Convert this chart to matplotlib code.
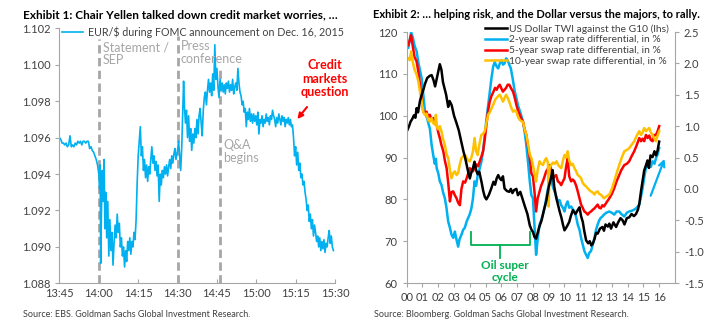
import numpy as np
import matplotlib.pyplot as plt

plt.rcParams['font.family'] = ['Lato', 'DejaVu Sans']

# ---- Exhibit 1 data: EUR/$ (minutes after 13:45) ----
minutes = [0, 0.5, 1, 1.5, 2, 2.5, 3, 3.5, 4, 4.5, 5, 5.5, 6, 6.5, 7, 7.5, 8, 8.5, 9, 9.5,
           10, 10.5, 11, 11.5, 12, 12.5, 13, 13.5, 14, 14.5,
           15, 15.3, 15.5, 15.7, 16, 16.3, 16.6, 17, 17.3, 17.6, 18, 18.4, 18.8, 19.2, 19.6,
           20, 20.4, 20.8, 21.2, 21.6, 22, 22.4, 22.8, 23.2, 23.6, 24, 24.4, 24.8, 25.2, 25.6,
           26, 26.4, 26.8, 27.2, 27.6, 28, 28.4, 28.8, 29.2, 29.6, 30, 30.4, 30.8, 31.2, 31.6,
           32, 32.4, 32.8, 33.2, 33.6, 34, 34.4, 34.8, 35.2, 35.6, 36, 36.4, 36.8, 37.2, 37.6,
           38, 38.4, 38.8, 39.2, 39.6, 40, 40.4, 40.8, 41.2, 41.6, 42, 42.4, 42.8, 43.2, 43.6,
           44, 44.4, 45, 45.4, 45.8, 46.2, 46.6, 47, 47.3, 47.6, 48, 48.4, 48.8, 49.2, 49.6,
           50, 50.4, 50.8, 51.2, 51.6, 52, 52.4, 52.8, 53.2, 53.6, 54, 54.4, 54.8, 55.2, 55.6,
           56, 56.4, 56.8, 57.2, 57.6, 58, 58.4, 58.8, 59.2, 59.6, 60, 60.4, 60.8, 61.2, 61.6,
           62, 62.4, 62.8, 63.2, 63.6, 64, 64.4, 64.8, 65.2, 65.6, 66, 66.4, 66.8, 67.2, 67.6,
           68, 68.4, 68.8, 69.2, 69.6, 70, 70.4, 70.8, 71.2, 71.6, 72, 72.4, 72.8, 73.2, 73.6,
           74, 74.4, 74.8, 75.2, 75.6, 76, 76.4, 76.8, 77.2, 77.6, 78, 78.4, 78.8, 79.2, 79.6,
           80, 80.4, 80.8, 81.2, 81.6, 82, 82.4, 82.8, 83.2, 83.6, 84, 84.4, 84.8, 85.2, 85.6,
           86, 86.4, 86.8, 87.2, 87.6, 88, 88.4, 88.8, 89.2, 89.6, 90, 90.4, 90.8, 91.2, 91.6,
           92, 92.4, 92.8, 93.2, 93.6, 94, 94.4, 94.8, 95.2, 95.6, 96, 96.4, 96.8, 97.2, 97.6,
           98, 98.4, 98.8, 99.2, 99.6, 100, 100.4, 100.8, 101.2, 101.6, 102, 102.4, 102.8,
           103.2, 103.6, 104, 104.4]
eurusd = [1.0960, 1.0959, 1.0957, 1.0957, 1.0956, 1.0957, 1.0955, 1.0956, 1.0961, 1.0955,
          1.0956, 1.0955, 1.0957, 1.0956, 1.0958, 1.0957, 1.0958, 1.0956, 1.0958, 1.0958,
          1.0957, 1.0958, 1.0958, 1.0954, 1.0955, 1.0953, 1.0952, 1.0950, 1.0948, 1.0945,
          1.0940, 1.0932, 1.0945, 1.0891, 1.0920, 1.0942, 1.0925, 1.0948, 1.0910, 1.0930,
          1.0905, 1.0925, 1.0895, 1.0915, 1.0898, 1.0908, 1.0890, 1.0902, 1.0912, 1.0905,
          1.0918, 1.0908, 1.0913, 1.0900, 1.0905, 1.0895, 1.0900, 1.0889, 1.0898, 1.0892,
          1.0903, 1.0898, 1.0905, 1.0896, 1.0903, 1.0900, 1.0908, 1.0904, 1.0915, 1.0935,
          1.0950, 1.0958, 1.0966, 1.0950, 1.0955, 1.0942, 1.0948, 1.0938, 1.0945, 1.0936,
          1.0944, 1.0940, 1.0948, 1.0955, 1.0946, 1.0950, 1.0942, 1.0947, 1.0939, 1.0945,
          1.0925, 1.0940, 1.0934, 1.0942, 1.0938, 1.0944, 1.0940, 1.0945, 1.0939, 1.0944,
          1.0948, 1.0943, 1.0950, 1.0946, 1.0951, 1.0954, 1.0948,
          1.0953, 1.0958, 1.0950, 1.0942, 1.0955, 1.0975, 1.0991, 1.0978, 1.0968, 1.0975,
          1.0960, 1.0972, 1.0958, 1.0965, 1.0953, 1.0962, 1.0957, 1.0965, 1.0960, 1.0970,
          1.0962, 1.0972, 1.0976, 1.0968, 1.0961, 1.0975, 1.0982, 1.0985, 1.0978, 1.0986,
          1.0992, 1.0985, 1.0990, 1.0983, 1.0995, 1.0986, 1.1011, 1.0992, 1.0998,
          1.0988, 1.0982, 1.0992, 1.0986, 1.0990, 1.0985, 1.0989, 1.0984, 1.0990, 1.0987,
          1.0991, 1.0985, 1.0989, 1.0986, 1.0992, 1.0984, 1.0988, 1.0990, 1.0986, 1.0998,
          1.0990, 1.0985, 1.0983, 1.0978, 1.0980, 1.0974, 1.0976, 1.0966, 1.0974, 1.0970,
          1.0976, 1.0969, 1.0973, 1.0968, 1.0973, 1.0969, 1.0972, 1.0967, 1.0974, 1.0962,
          1.0970, 1.0968, 1.0972, 1.0966, 1.0970, 1.0968, 1.0973, 1.0969, 1.0971, 1.0967,
          1.0972, 1.0970, 1.0975, 1.0972, 1.0970, 1.0966, 1.0971, 1.0968, 1.0973, 1.0970,
          1.0967, 1.0972, 1.0969, 1.0971, 1.0966, 1.0970, 1.0968, 1.0971, 1.0967,
          1.0970, 1.0966, 1.0967, 1.0960, 1.0950, 1.0955, 1.0945, 1.0952, 1.0942, 1.0946,
          1.0938, 1.0940, 1.0934, 1.0936, 1.0930, 1.0926, 1.0920, 1.0923, 1.0914, 1.0918,
          1.0910, 1.0915, 1.0906, 1.0912, 1.0908, 1.0903, 1.0906, 1.0900, 1.0905, 1.0898,
          1.0903, 1.0899, 1.0904, 1.0897, 1.0902, 1.0900, 1.0905, 1.0909, 1.0902, 1.0906,
          1.0900, 1.0898]
time_labels = ['13:45', '14:00', '14:15', '14:30', '14:45', '15:00', '15:15', '15:30']
event_minutes = [15, 45, 61.3]
event_tops = [1.1014, 1.1016, 1.0998]
event_labels = ['Statement /\nSEP', 'Press\nconference', 'Q&A\nbegins']

# ---- Exhibit 2 data ----
twi_years = [2000.0, 2000.15, 2000.25, 2000.35, 2000.46, 2000.55, 2000.63, 2000.72, 2000.84, 2000.95,
             2001.05, 2001.15, 2001.3, 2001.45, 2001.58, 2001.7, 2001.8, 2001.9, 2002.0, 2002.1,
             2002.2, 2002.3, 2002.4, 2002.5, 2002.63, 2002.72, 2002.85, 2003.0, 2003.16, 2003.3,
             2003.45, 2003.6, 2003.7, 2003.8, 2003.9, 2004.0, 2004.1, 2004.2, 2004.3, 2004.4,
             2004.5, 2004.6, 2004.75, 2004.85, 2004.95, 2005.05, 2005.2, 2005.35, 2005.5, 2005.6,
             2005.7, 2005.8, 2005.9, 2006.0, 2006.1, 2006.2, 2006.35, 2006.5, 2006.6, 2006.7,
             2006.8, 2006.95, 2007.05, 2007.2, 2007.35, 2007.5, 2007.65, 2007.8, 2007.9, 2008.0,
             2008.1, 2008.2, 2008.3, 2008.4, 2008.55, 2008.7, 2008.85, 2009.0, 2009.16, 2009.25,
             2009.35, 2009.47, 2009.6, 2009.7, 2009.8, 2009.9, 2010.0, 2010.15, 2010.3, 2010.4,
             2010.53, 2010.7, 2010.85, 2010.95, 2011.05, 2011.16, 2011.25, 2011.37, 2011.5, 2011.6,
             2011.7, 2011.79, 2011.9, 2012.0, 2012.1, 2012.25, 2012.4, 2012.5, 2012.6, 2012.75,
             2012.84, 2012.95, 2013.1, 2013.27, 2013.4, 2013.55, 2013.68, 2013.8, 2013.95, 2014.1,
             2014.25, 2014.4, 2014.53, 2014.65, 2014.74, 2014.85, 2014.95, 2015.05, 2015.15, 2015.26,
             2015.35, 2015.45, 2015.58, 2015.7, 2015.8, 2015.9, 2016.0]
twi_values = [96.2, 97.5, 98.6, 99.2, 100.1, 99.5, 101.8, 100.8, 103.5, 105.0,
              106.1, 107.5, 109.0, 109.5, 109.7, 108.5, 107.0, 108.8, 110.5, 112.3,
              111.0, 108.0, 106.5, 105.0, 102.1, 103.5, 102.5, 100.0, 98.2, 96.5,
              94.0, 91.4, 90.0, 88.2, 86.5, 85.0, 86.5, 87.5, 89.0, 87.0,
              86.0, 86.6, 84.0, 82.0, 80.6, 80.0, 81.0, 82.5, 84.2, 83.5,
              85.0, 85.8, 85.0, 84.6, 85.5, 82.6, 82.0, 81.8, 82.5, 81.5,
              82.2, 82.5, 81.0, 81.8, 80.0, 78.2, 76.5, 73.8, 72.8, 72.2,
              71.0, 70.6, 72.0, 73.4, 75.0, 77.5, 79.7, 83.0, 85.3, 87.0,
              83.0, 80.5, 78.5, 77.0, 75.7, 74.0, 72.6, 73.5, 74.6, 76.0,
              77.4, 76.5, 77.5, 78.1, 76.0, 74.6, 72.5, 70.2, 69.5, 70.0,
              69.0, 69.4, 70.5, 72.0, 71.8, 73.0, 73.4, 72.5, 74.0, 73.5,
              74.2, 73.0, 74.5, 73.4, 74.5, 75.5, 75.0, 74.0, 75.5, 75.7,
              76.5, 76.0, 76.5, 77.5, 78.9, 82.0, 84.5, 86.9, 88.0, 89.3,
              87.5, 90.5, 90.1, 91.5, 90.5, 91.7, 93.8]

swap2_years = [2000.1, 2000.2, 2000.28, 2000.4, 2000.5, 2000.63, 2000.75, 2000.85, 2000.95, 2001.05,
               2001.16, 2001.3, 2001.4, 2001.47, 2001.58, 2001.68, 2001.78, 2001.85, 2001.9, 2002.0,
               2002.1, 2002.21, 2002.3, 2002.42, 2002.52, 2002.63, 2002.74, 2002.84, 2002.95, 2003.05,
               2003.15, 2003.26, 2003.35, 2003.47, 2003.58, 2003.68, 2003.8, 2003.9, 2004.0, 2004.1,
               2004.2, 2004.3, 2004.4, 2004.5, 2004.6, 2004.73, 2004.85, 2004.95, 2005.05, 2005.16,
               2005.27, 2005.37, 2005.48, 2005.58, 2005.7, 2005.8, 2005.9, 2006.0, 2006.1, 2006.2,
               2006.3, 2006.4, 2006.5, 2006.6, 2006.72, 2006.85, 2006.95, 2007.05, 2007.2, 2007.37,
               2007.48, 2007.58, 2007.7, 2007.8, 2007.9, 2008.0, 2008.1, 2008.2, 2008.3, 2008.42,
               2008.52, 2008.63, 2008.74, 2008.84, 2008.95, 2009.05, 2009.12, 2009.2, 2009.28, 2009.37,
               2009.48, 2009.58, 2009.69, 2009.79, 2009.9, 2010.0, 2010.1, 2010.2, 2010.3, 2010.42,
               2010.52, 2010.63, 2010.74, 2010.84, 2010.95, 2011.05, 2011.15, 2011.26, 2011.37, 2011.47,
               2011.57, 2011.68, 2011.8, 2011.9, 2012.0, 2012.1, 2012.2, 2012.3, 2012.4, 2012.5,
               2012.65, 2012.84, 2013.0, 2013.15, 2013.3, 2013.47, 2013.6, 2013.79, 2013.95, 2014.1,
               2014.25, 2014.42, 2014.58, 2014.74, 2014.85, 2014.95, 2015.05, 2015.16, 2015.27, 2015.37,
               2015.47, 2015.58, 2015.7, 2015.8, 2015.9, 2016.0]
swap2_values = [2.25, 2.38, 2.50, 2.40, 2.28, 2.19, 2.00, 1.88, 1.76, 1.50,
                1.23, 1.12, 1.02, 0.96, 0.70, 0.54, 0.40, 0.48, 0.33, 0.25,
                0.12, 0.06, -0.05, -0.15, -0.30, -0.52, -0.62, -0.73, -0.78, -0.68,
                -0.80, -0.92, -0.80, -0.73, -0.65, -0.62, -0.52, -0.46, -0.40, -0.31,
                -0.15, 0.12, 0.05, 0.22, 0.30, 0.43, 0.62, 0.86, 1.10, 1.33,
                1.55, 1.76, 1.95, 2.02, 1.95, 1.92, 2.00, 2.05, 1.98, 2.00,
                2.08, 2.05, 1.98, 1.92, 1.75, 1.55, 1.45, 1.33, 1.22, 1.07,
                0.90, 0.70, 0.40, 0.12, -0.10, -0.15, -0.60, -1.05, -0.80, -0.57,
                -0.50, -0.41, -0.30, -0.15, 0.00, 0.17, 0.38, 0.10, 0.02, -0.04,
                -0.12, -0.20, -0.18, -0.26, -0.30, -0.36, -0.25, -0.20, -0.30, -0.28,
                -0.32, -0.36, -0.45, -0.57, -0.65, -0.78, -0.88, -0.99, -1.05, -1.10,
                -1.02, -0.99, -0.88, -0.78, -0.65, -0.57, -0.50, -0.46, -0.44, -0.41,
                -0.38, -0.36, -0.38, -0.41, -0.36, -0.36, -0.40, -0.44, -0.38, -0.36,
                -0.35, -0.33, -0.30, -0.25, -0.12, 0.01, 0.18, 0.33, 0.38, 0.38,
                0.35, 0.44, 0.40, 0.49, 0.55, 0.65]

swap5_years = [2000.1, 2000.2, 2000.28, 2000.4, 2000.5, 2000.63, 2000.75, 2000.84, 2000.95, 2001.05,
               2001.15, 2001.26, 2001.36, 2001.47, 2001.58, 2001.68, 2001.8, 2001.9, 2002.0, 2002.1,
               2002.2, 2002.32, 2002.42, 2002.53, 2002.63, 2002.74, 2002.84, 2002.95, 2003.05, 2003.16,
               2003.26, 2003.37, 2003.47, 2003.58, 2003.7, 2003.8, 2003.9, 2004.0, 2004.1, 2004.2,
               2004.32, 2004.42, 2004.52, 2004.63, 2004.74, 2004.84, 2004.95, 2005.05, 2005.16, 2005.26,
               2005.37, 2005.5, 2005.6, 2005.7, 2005.8, 2005.9, 2006.0, 2006.1, 2006.2, 2006.3,
               2006.4, 2006.5, 2006.62, 2006.74, 2006.85, 2006.95, 2007.05, 2007.16, 2007.26, 2007.37,
               2007.47, 2007.58, 2007.7, 2007.8, 2007.9, 2008.0, 2008.1, 2008.2, 2008.3, 2008.42,
               2008.52, 2008.63, 2008.74, 2008.84, 2008.95, 2009.05, 2009.15, 2009.26, 2009.37, 2009.47,
               2009.58, 2009.69, 2009.79, 2009.9, 2010.0, 2010.1, 2010.2, 2010.3, 2010.42, 2010.52,
               2010.63, 2010.74, 2010.84, 2010.95, 2011.05, 2011.15, 2011.26, 2011.37, 2011.47, 2011.57,
               2011.68, 2011.8, 2011.9, 2012.0, 2012.1, 2012.2, 2012.3, 2012.4, 2012.5, 2012.65,
               2012.84, 2013.0, 2013.15, 2013.3, 2013.47, 2013.6, 2013.79, 2013.95, 2014.1, 2014.25,
               2014.42, 2014.58, 2014.74, 2014.85, 2014.95, 2015.05, 2015.16, 2015.27, 2015.37, 2015.47,
               2015.58, 2015.7, 2015.8, 2015.9, 2016.0]
swap5_values = [2.29, 2.38, 2.45, 2.25, 2.10, 2.03, 1.85, 1.66, 1.45, 1.23,
                1.20, 1.23, 1.15, 1.18, 1.10, 1.13, 1.05, 1.02, 0.90, 0.81,
                0.70, 0.60, 0.45, 0.33, 0.10, -0.20, -0.05, -0.04, -0.10, -0.15,
                -0.22, -0.26, 0.00, 0.12, 0.10, 0.17, 0.25, 0.33, 0.30, 0.28,
                0.35, 0.39, 0.36, 0.44, 0.52, 0.60, 0.80, 1.02, 1.25, 1.39,
                1.48, 1.55, 1.61, 1.58, 1.63, 1.66, 1.60, 1.55, 1.58, 1.61,
                1.66, 1.66, 1.60, 1.55, 1.45, 1.34, 1.25, 1.18, 1.12, 1.07,
                0.95, 0.86, 0.65, 0.49, 0.25, 0.20, -0.05, -0.36, -0.15, -0.04,
                0.05, 0.12, 0.20, 0.28, 0.32, 0.38, 0.30, 0.17, 0.20, 0.22,
                0.12, 0.10, 0.06, 0.12, 0.17, 0.35, 0.49, 0.20, 0.12, 0.15,
                0.12, 0.05, -0.04, -0.15, -0.25, -0.30, -0.36, -0.38, -0.41, -0.38,
                -0.36, -0.33, -0.31, -0.28, -0.25, -0.30, -0.31, -0.26, -0.28, -0.22,
                -0.15, -0.08, 0.01, 0.12, 0.22, 0.30, 0.38, 0.40, 0.44, 0.52,
                0.60, 0.70, 0.81, 0.76, 0.80, 0.76, 0.86, 0.81, 0.85, 0.78,
                0.76, 0.86, 0.86, 0.92, 1.00]

swap10_years = [2000.1, 2000.2, 2000.28, 2000.4, 2000.5, 2000.63, 2000.75, 2000.84, 2000.95, 2001.05,
                2001.15, 2001.26, 2001.36, 2001.47, 2001.58, 2001.68, 2001.8, 2001.85, 2001.92, 2002.0,
                2002.1, 2002.2, 2002.3, 2002.42, 2002.53, 2002.63, 2002.74, 2002.84, 2002.95, 2003.05,
                2003.16, 2003.26, 2003.37, 2003.47, 2003.58, 2003.7, 2003.8, 2003.9, 2004.0, 2004.1,
                2004.2, 2004.3, 2004.4, 2004.5, 2004.6, 2004.73, 2004.84, 2004.95, 2005.05, 2005.16,
                2005.26, 2005.37, 2005.5, 2005.6, 2005.7, 2005.8, 2005.9, 2006.0, 2006.1, 2006.2,
                2006.3, 2006.4, 2006.5, 2006.62, 2006.74, 2006.85, 2006.95, 2007.05, 2007.16, 2007.26,
                2007.37, 2007.47, 2007.58, 2007.7, 2007.8, 2007.9, 2008.0, 2008.1, 2008.2, 2008.3,
                2008.42, 2008.52, 2008.63, 2008.74, 2008.84, 2008.95, 2009.0, 2009.05, 2009.15, 2009.26,
                2009.37, 2009.5, 2009.6, 2009.7, 2009.8, 2009.9, 2010.0, 2010.1, 2010.2, 2010.3,
                2010.42, 2010.52, 2010.63, 2010.74, 2010.84, 2010.95, 2011.05, 2011.15, 2011.26, 2011.37,
                2011.47, 2011.57, 2011.68, 2011.8, 2011.9, 2012.0, 2012.1, 2012.2, 2012.3, 2012.4,
                2012.5, 2012.65, 2012.84, 2013.0, 2013.15, 2013.3, 2013.47, 2013.6, 2013.79, 2013.95,
                2014.1, 2014.25, 2014.42, 2014.58, 2014.74, 2014.85, 2014.95, 2015.05, 2015.16, 2015.27,
                2015.37, 2015.47, 2015.58, 2015.7, 2015.8, 2015.9, 2016.0]
swap10_values = [2.08, 2.05, 2.19, 2.00, 1.90, 1.82, 1.70, 1.55, 1.40, 1.23,
                 1.18, 1.20, 1.10, 1.07, 1.13, 1.05, 1.02, 1.18, 0.98, 0.95,
                 1.00, 0.92, 0.80, 0.70, 0.55, 0.49, 0.30, 0.17, 0.25, 0.28,
                 0.22, 0.25, 0.40, 0.49, 0.52, 0.54, 0.49, 0.45, 0.44, 0.50,
                 0.60, 0.81, 0.60, 0.54, 0.70, 0.86, 0.88, 0.92, 1.05, 1.18,
                 1.22, 1.28, 1.35, 1.42, 1.45, 1.48, 1.50, 1.45, 1.39, 1.45,
                 1.50, 1.45, 1.39, 1.30, 1.23, 1.25, 1.23, 1.15, 1.10, 1.08,
                 1.07, 0.95, 0.86, 0.70, 0.55, 0.49, 0.38, 0.25, 0.12, 0.30,
                 0.44, 0.40, 0.38, 0.45, 0.49, 0.42, -0.28, 0.33, 0.38, 0.42,
                 0.40, 0.44, 0.38, 0.35, 0.33, 0.45, 0.54, 0.50, 0.60, 0.45,
                 0.38, 0.40, 0.33, 0.28, 0.22, 0.20, 0.17, 0.10, 0.06, 0.04,
                 0.01, -0.02, -0.04, -0.06, -0.09, -0.05, -0.04, -0.08, -0.09, -0.12,
                 -0.15, -0.12, -0.09, 0.00, 0.12, 0.25, 0.38, 0.48, 0.60, 0.62,
                 0.65, 0.70, 0.76, 0.85, 0.92, 0.86, 0.90, 0.97, 0.92, 0.95,
                 0.97, 0.90, 0.86, 0.80, 0.76, 0.85, 0.92]

year_labels = ['%02d' % y for y in range(0, 17)]

GRAY = '#A6A6A6'
TXT = '#404040'
BLUE = '#00B0F0'

fig = plt.figure(figsize=(7.15, 3.22), dpi=100)

# ---------------- Exhibit 1 ----------------
ax = fig.add_axes([0.0832, 0.120, 0.3853, 0.792])
l_eur, = ax.plot(minutes, eurusd, color=BLUE, lw=1.2,
                 label='EUR/$ during FOMC announcement on Dec. 16, 2015')
for m, top in zip(event_minutes, event_tops):
    ax.plot([m, m], [1.088, top], color=GRAY, lw=2, dashes=(3, 1.6), zorder=1)
ax.text(16.5, 1.1013, event_labels[0], color=GRAY, fontsize=9, va='top', linespacing=1.1)
ax.text(46.2, 1.10135, event_labels[1], color=GRAY, fontsize=9, va='top', linespacing=1.1)
ax.text(62.5, 1.0959, event_labels[2], color=GRAY, fontsize=9, va='top', linespacing=1.1)
ax.text(101, 1.1003, 'Credit\nmarkets\nquestion', color='#FF0000', fontsize=9, fontweight='bold',
        ha='center', va='top', linespacing=1.15)
ax.annotate('', xy=(90, 1.0969), xytext=(95, 1.0978),
            arrowprops=dict(arrowstyle='-|>', color='#FF0000', lw=1.5, mutation_scale=8))
ax.set_xlim(0, 105)
ax.set_ylim(1.088, 1.102)
ax.set_xticks(np.arange(0, 106, 15))
ax.set_xticklabels(time_labels)
ax.set_yticks(np.arange(1.088, 1.1021, 0.002))
ax.set_yticklabels(['%.3f' % v for v in np.arange(1.088, 1.1021, 0.002)])
for s in ['top', 'right']:
    ax.spines[s].set_visible(False)
for s in ['left', 'bottom']:
    ax.spines[s].set_color(GRAY)
ax.tick_params(axis='both', colors=GRAY, labelcolor=TXT, labelsize=8, length=3)
ax.tick_params(axis='x', direction='in')
fig.legend(handles=[l_eur], loc='upper left', bbox_to_anchor=(0.0867, 0.918), frameon=False,
           fontsize=7.7, handlelength=2.0, handletextpad=0.45, labelcolor=TXT,
           borderpad=0, borderaxespad=0)

# ---------------- Exhibit 2 ----------------
axl = fig.add_axes([0.5688, 0.121, 0.3752, 0.7796])
axr = axl.twinx()
l2, = axr.plot(swap2_years, swap2_values, color=BLUE, lw=1.8, label='2-year swap rate differential, in %')
l5, = axr.plot(swap5_years, swap5_values, color='#FF0000', lw=1.8, label='5-year swap rate differential, in %')
l10, = axr.plot(swap10_years, swap10_values, color='#FFC000', lw=1.8, label='10-year swap rate differential, in %')
lt, = axl.plot(twi_years, twi_values, color='black', lw=1.8, label='US Dollar TWI against the G10 (lhs)')
axl.set_zorder(axr.get_zorder() + 1)
axl.patch.set_visible(False)

axr.annotate('', xy=(2016.4, 0.52), xytext=(2015.4, -0.15),
             arrowprops=dict(arrowstyle='->', color=BLUE, lw=1.6, mutation_scale=10))

# oil super cycle bracket
axl.plot([2004.05, 2004.05, 2007.8, 2007.8], [72.3, 69.1, 69.1, 72.3], color='#00B050', lw=1.3)
axl.plot([2005.94, 2005.94], [69.1, 66.0], color='#00B050', lw=1.3)
axl.text(2006.2, 65.6, 'Oil super\ncycle', color='#00B050', fontsize=8.5, fontweight='bold',
         ha='center', va='top', linespacing=1.2)

axl.set_xlim(2000, 2017)
axl.set_ylim(60, 120)
axr.set_ylim(-1.5, 2.5)
axl.set_xticks(np.arange(2000, 2017))
axl.set_xticklabels(year_labels)
axl.set_yticks(np.arange(60, 121, 10))
axr.set_yticks(np.arange(-1.5, 2.51, 0.5))
axr.set_yticklabels(['%.1f' % v for v in np.arange(-1.5, 2.51, 0.5)])
for a in (axl, axr):
    a.spines['top'].set_visible(False)
    for s in ['left', 'bottom', 'right']:
        a.spines[s].set_color(GRAY)
    a.tick_params(axis='both', colors=GRAY, labelcolor=TXT, labelsize=8, length=3)
axl.spines['right'].set_visible(False)
axr.spines['left'].set_visible(False)
axr.spines['bottom'].set_visible(False)

fig.legend(handles=[lt, l2, l5, l10], loc='upper left', bbox_to_anchor=(0.678, 0.925),
           frameon=False, fontsize=7.4, handlelength=2.2, handletextpad=0.2, labelspacing=0.15,
           labelcolor=TXT, borderaxespad=0, borderpad=0)

# titles and sources
fig.text(0.032, 0.955, 'Exhibit 1: Chair Yellen talked down credit market worries, \u2026',
         fontsize=8.5, fontweight='bold', va='center', color='black')
fig.text(0.522, 0.955, 'Exhibit 2: \u2026 helping risk, and the Dollar versus the majors, to rally.',
         fontsize=8.0, fontweight='bold', va='center', color='black')
fig.text(0.032, 0.022, 'Source: EBS. Goldman Sachs Global Investment Research.',
         fontsize=6.5, va='center', color=TXT)
fig.text(0.523, 0.022, 'Source: Bloomberg. Goldman Sachs Global Investment Research.',
         fontsize=6.5, va='center', color=TXT)

fig.savefig('out.png', dpi=100)
